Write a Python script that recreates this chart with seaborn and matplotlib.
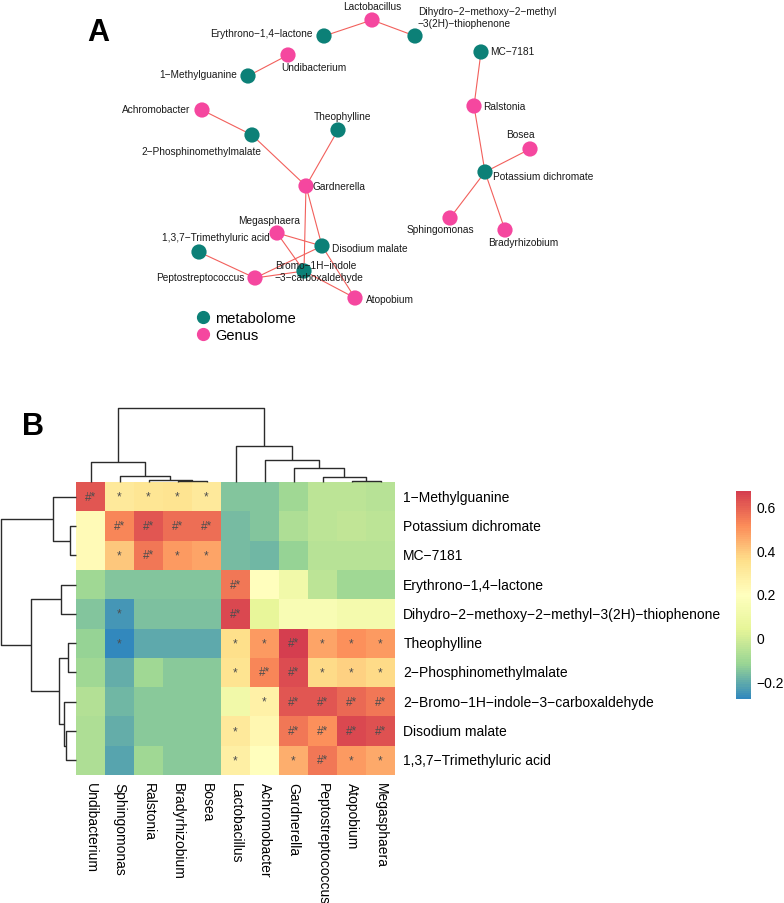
import numpy as np
import pandas as pd
import matplotlib
matplotlib.use("Agg")
import matplotlib.pyplot as plt
import seaborn as sns
from matplotlib.colors import LinearSegmentedColormap
from matplotlib.lines import Line2D

plt.rcParams['font.family'] = ['Liberation Sans', 'DejaVu Sans']

# ---------------- data ----------------
genera = ["Undibacterium", "Sphingomonas", "Ralstonia", "Bradyrhizobium", "Bosea",
          "Lactobacillus", "Achromobacter", "Gardnerella", "Peptostreptococcus",
          "Atopobium", "Megasphaera"]
metabolites = ["1\u2212Methylguanine", "Potassium dichromate", "MC\u22127181",
               "Erythrono\u22121,4\u2212lactone",
               "Dihydro\u22122\u2212methoxy\u22122\u2212methyl\u22123(2H)\u2212thiophenone",
               "Theophylline", "2\u2212Phosphinomethylmalate",
               "2\u2212Bromo\u22121H\u2212indole\u22123\u2212carboxaldehyde",
               "Disodium malate", "1,3,7\u2212Trimethyluric acid"]

corr_methylguanine = [0.62, 0.30, 0.32, 0.33, 0.30, -0.15, -0.15, -0.10, -0.05, -0.05, -0.06]
corr_potassium = [0.22, 0.52, 0.62, 0.57, 0.57, -0.17, -0.15, -0.08, -0.05, -0.04, -0.05]
corr_mc7181 = [0.22, 0.40, 0.55, 0.48, 0.47, -0.17, -0.18, -0.12, -0.06, -0.06, -0.06]
corr_erythrono = [-0.10, -0.15, -0.15, -0.15, -0.15, 0.55, 0.20, 0.10, -0.05, -0.10, -0.10]
corr_dihydro = [-0.15, -0.25, -0.16, -0.16, -0.16, 0.65, 0.05, 0.15, 0.15, 0.12, 0.12]
corr_theophylline = [-0.12, -0.28, -0.21, -0.21, -0.21, 0.35, 0.48, 0.67, 0.47, 0.50, 0.48]
corr_phosphino = [-0.10, -0.20, -0.10, -0.14, -0.14, 0.33, 0.52, 0.64, 0.36, 0.38, 0.36]
corr_bromo = [-0.07, -0.18, -0.14, -0.14, -0.14, 0.10, 0.27, 0.62, 0.62, 0.58, 0.55]
corr_disodium = [-0.08, -0.20, -0.14, -0.14, -0.14, 0.30, 0.24, 0.55, 0.50, 0.65, 0.63]
corr_trimethyluric = [-0.08, -0.22, -0.10, -0.14, -0.14, 0.28, 0.20, 0.45, 0.55, 0.48, 0.46]

sig_methylguanine = ["#*", "*", "*", "*", "*", "", "", "", "", "", ""]
sig_potassium = ["", "#*", "#*", "#*", "#*", "", "", "", "", "", ""]
sig_mc7181 = ["", "*", "#*", "*", "*", "", "", "", "", "", ""]
sig_erythrono = ["", "", "", "", "", "#*", "", "", "", "", ""]
sig_dihydro = ["", "*", "", "", "", "#*", "", "", "", "", ""]
sig_theophylline = ["", "*", "", "", "", "*", "*", "#*", "*", "*", "*"]
sig_phosphino = ["", "", "", "", "", "*", "#*", "#*", "*", "*", "*"]
sig_bromo = ["", "", "", "", "", "", "*", "#*", "#*", "#*", "#*"]
sig_disodium = ["", "", "", "", "", "*", "", "#*", "#*", "#*", "#*"]
sig_trimethyluric = ["", "", "", "", "", "*", "", "*", "#*", "*", "*"]

# dendrogram merges: (height, left, right); leaves are row/column indices
col_tree = (74, (20, 0, (6, 1, (2, 2, (1, 3, 4)))),
            (36, 5, (22, 6, (14, 7, (5, 8, (1, 9, 10))))))
row_tree = (75, (23, 0, (6, 1, 2)),
            (45, (15, 3, 4), (17, (8, 5, 6), (12, 7, (10, 8, 9)))))

# network layout (node positions)
genus_x = [288, 450, 474, 505, 530, 372, 202, 306, 255, 355, 277]
genus_y = [56, 219, 107, 231, 150, 21, 111, 187, 279, 299, 234]
metab_x = [248, 485, 481, 324, 415, 338, 252, 304, 322, 199]
metab_y = [77, 173, 53, 37, 37, 131, 136, 272, 247, 253]

net_label = {
    metabolites[4]: "Dihydro\u22122\u2212methoxy\u22122\u2212methyl\n\u22123(2H)\u2212thiophenone",
    metabolites[7]: "Bromo\u22121H\u2212indole\n\u22123\u2212carboxaldehyde",
}
# label offsets (dx, dy, ha)
genus_lab = [(-7, 12, 'left'), (-10, 11, 'center'), (9, 0, 'left'), (18, 12, 'center'),
             (-10, -15, 'center'), (0, -14, 'center'), (-12, -1, 'right'), (7, 0, 'left'),
             (-10, -1, 'right'), (11, 1, 'left'), (23, -13, 'right')]
metab_lab = [(-11, -2, 'right'), (8, 4, 'left'), (9, -1, 'left'), (-11, -3, 'right'),
             (3, -19, 'left'), (5, -14, 'center'), (9, 16, 'right'), (-29, 0, 'left'),
             (10, 2, 'left'), (17, -15, 'center')]

corr = pd.DataFrame([corr_methylguanine, corr_potassium, corr_mc7181, corr_erythrono,
                     corr_dihydro, corr_theophylline, corr_phosphino, corr_bromo,
                     corr_disodium, corr_trimethyluric], index=metabolites, columns=genera)
sig = pd.DataFrame([sig_methylguanine, sig_potassium, sig_mc7181, sig_erythrono,
                    sig_dihydro, sig_theophylline, sig_phosphino, sig_bromo,
                    sig_disodium, sig_trimethyluric], index=metabolites, columns=genera)

# ---------------- figure ----------------
W, H = 784, 904
fig = plt.figure(figsize=(W / 100, H / 100), dpi=100)


def px_axes(x0, y0, x1, y1):
    return fig.add_axes([x0 / W, 1 - y1 / H, (x1 - x0) / W, (y1 - y0) / H])


teal = "#0c8077"
pink = "#f5479f"
edge_col = "#f2605c"

# ---------- panel A: network ----------
axn = px_axes(0, 0, W, 360)
axn.set_xlim(0, W)
axn.set_ylim(360, 0)
axn.axis("off")

nodes = pd.DataFrame({
    "name": metabolites + genera,
    "x": metab_x + genus_x,
    "y": metab_y + genus_y,
    "type": ["metabolome"] * len(metabolites) + ["Genus"] * len(genera),
})
pos = {n: (x, y) for n, x, y in zip(nodes.name, nodes.x, nodes.y)}
for m in metabolites:
    for g in genera:
        if sig.loc[m, g] == "#*":
            (x1, y1), (x2, y2) = pos[m], pos[g]
            axn.plot([x1, x2], [y1, y2], color=edge_col, lw=0.8, zorder=1)

sns.scatterplot(data=nodes, x="x", y="y", hue="type",
                palette={"metabolome": teal, "Genus": pink},
                s=120, edgecolor="none", legend=False, ax=axn, zorder=3)
axn.set_xlabel("")
axn.set_ylabel("")

for names, labs in ((metabolites, metab_lab), (genera, genus_lab)):
    for n, (dx, dy, ha) in zip(names, labs):
        x, y = pos[n]
        axn.text(x + dx, y + dy, net_label.get(n, n), fontsize=7.3, ha=ha, va="center",
                 color="#1a1a1a", zorder=5, linespacing=1.15)

handles = [Line2D([], [], marker="o", ls="", color=teal, markersize=8.5),
           Line2D([], [], marker="o", ls="", color=pink, markersize=8.5)]
axn.legend(handles, ["metabolome", "Genus"], loc="upper left",
           bbox_to_anchor=(194, 312), bbox_transform=axn.transData,
           frameon=False, fontsize=10.5, handletextpad=0.25, labelspacing=0.2,
           borderpad=0, borderaxespad=0, handlelength=1.2)

fig.text(98 / W, 1 - 33 / H, "A", fontsize=22, fontweight="bold", ha="center", va="center")
fig.text(33 / W, 1 - 427 / H, "B", fontsize=22, fontweight="bold", ha="center", va="center")

# ---------- panel B: clustered heatmap ----------
spectral7 = ["#3288bd", "#99d594", "#e6f598", "#ffffbf", "#fee08b", "#fc8d59", "#d53e4f"]
cmap = LinearSegmentedColormap.from_list("spec", spectral7, N=100)

hx0, hy0, hx1, hy1 = 76, 483, 395, 776
axh = px_axes(hx0, hy0, hx1, hy1)
cax = px_axes(736, 492, 751, 700)
sns.heatmap(corr, ax=axh, cmap=cmap, cbar_ax=cax, annot=sig, fmt="",
            annot_kws=dict(size=8.5, color="#4d4d4d"),
            xticklabels=True, yticklabels=True, linewidths=0)
axh.yaxis.tick_right()
axh.set_yticklabels(metabolites, rotation=0, fontsize=10, va="center")
axh.set_xticklabels(genera, rotation=270, fontsize=10, ha="center", va="top")
axh.tick_params(axis="both", length=0)
axh.tick_params(axis="y", pad=6)
axh.tick_params(axis="x", pad=5)
axh.set_xlabel("")
axh.set_ylabel("")

cax.set_yticks([-0.2, 0, 0.2, 0.4, 0.6])
cax.set_yticklabels(["\u22120.2", "0", "0.2", "0.4", "0.6"], fontsize=10)
cax.tick_params(length=0, pad=4)
for s in cax.spines.values():
    s.set_visible(False)


def draw_tree(node, ax, orient):
    if isinstance(node, int):
        return node + 0.5, 0
    h, a, b = node
    pa, ha_ = draw_tree(a, ax, orient)
    pb, hb = draw_tree(b, ax, orient)
    p = [pa, pa, pb, pb]
    q = [ha_, h, h, hb]
    if orient == "top":
        ax.plot(p, q, color="#2b2b2b", lw=1.0, clip_on=False, solid_capstyle="butt")
    else:
        ax.plot(q, p, color="#2b2b2b", lw=1.0, clip_on=False, solid_capstyle="butt")
    return (pa + pb) / 2, h


axc = px_axes(hx0, 405, hx1, hy0)
axc.set_xlim(0, len(genera))
axc.set_ylim(0, 78)
axc.axis("off")
draw_tree(col_tree, axc, "top")

axr = px_axes(0, hy0, hx0, hy1)
axr.set_ylim(len(metabolites), 0)
axr.set_xlim(76, 0)
axr.axis("off")
draw_tree(row_tree, axr, "left")

fig.savefig("out.png", dpi=100)
